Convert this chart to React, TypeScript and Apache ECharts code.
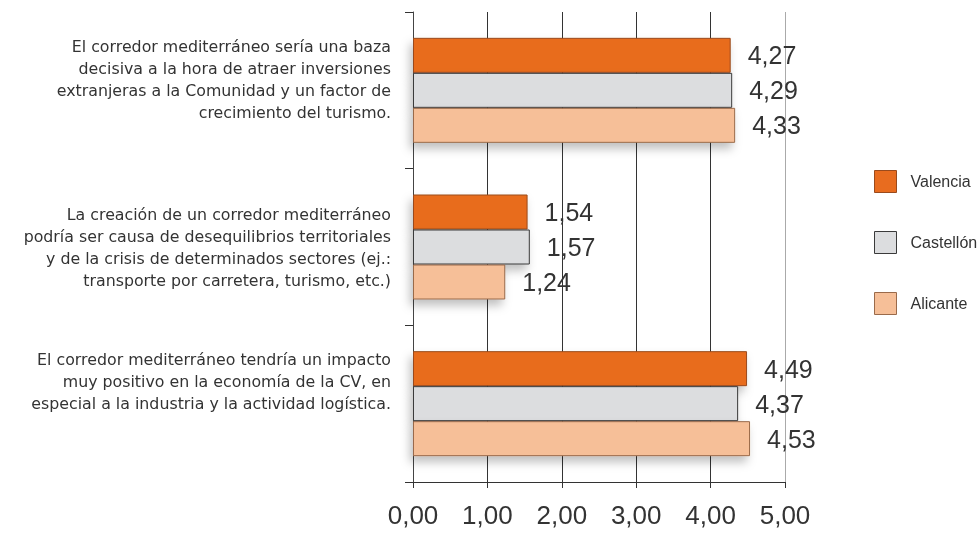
import React, { useEffect, useRef } from "react";
import * as echarts from "echarts";

const categories = [
  "El corredor mediterráneo sería una baza\ndecisiva a la hora de atraer inversiones\nextranjeras a la Comunidad y un factor de\ncrecimiento del turismo.",
  "La creación de un corredor mediterráneo\npodría ser causa de desequilibrios territoriales\ny de la crisis de determinados sectores (ej.:\ntransporte por carretera, turismo, etc.)",
  "El corredor mediterráneo tendría un impacto\nmuy positivo en la economía de la CV, en\nespecial a la industria y la actividad logística.",
];
const seriesNames = ["Valencia", "Castellón", "Alicante"];
const valencia = [4.27, 1.54, 4.49];
const castellon = [4.29, 1.57, 4.37];
const alicante = [4.33, 1.24, 4.53];
const tickLabels = ["0,00", "1,00", "2,00", "3,00", "4,00", "5,00"];

const fills = ["#E86C1F", "#DCDDDF", "#F6BF98"];
const borders = ["#9A4A1C", "#3A3A3A", "#9A6A4A"];

export default function App() {
  const ref = useRef<HTMLDivElement>(null);
  useEffect(() => {
    if (!ref.current) return;
    const chart = echarts.init(ref.current, undefined, { renderer: "svg" });
    const data = [valencia, castellon, alicante];
    const labelPad = ["\n", "", "\n\n"];
    chart.setOption({
      animation: false,
      grid: { left: 413, right: 193, top: 12, bottom: 53 },
      legend: {
        orient: "vertical",
        left: 869,
        top: 165,
        itemWidth: 22,
        itemHeight: 22,
        itemGap: 38,
        icon: "rect",
        data: seriesNames,
        itemStyle: { borderWidth: 1 },
        textStyle: {
          fontFamily: "'Liberation Sans', Arial, sans-serif",
          fontSize: 16,
          color: "#333",
          padding: [0, 0, 0, 9],
        },
      },
      xAxis: {
        type: "value",
        min: 0,
        max: 5,
        interval: 1,
        axisLine: { show: true, lineStyle: { color: "#333", width: 1 } },
        axisTick: { show: true, length: 6, lineStyle: { color: "#333" } },
        axisLabel: {
          margin: 20,
          fontSize: 26,
          color: "#333",
          fontFamily: "'Liberation Sans', Arial, sans-serif",
          formatter: (v: number) => tickLabels[Math.round(v)],
        },
        splitLine: {
          show: true,
          lineStyle: { color: ["#555", "#333", "#333", "#333", "#333", "#aaa"], width: 1 },
        },
      },
      yAxis: {
        type: "category",
        inverse: true,
        data: categories,
        axisLine: { show: true, lineStyle: { color: "#444", width: 1 } },
        axisTick: { show: true, length: 8, lineStyle: { color: "#333" } },
        axisLabel: {
          margin: 22,
          fontSize: 15.8,
          lineHeight: 22,
          color: "#333",
          align: "right",
          fontFamily: "'DejaVu Sans', sans-serif",
          formatter: (v: string) => {
            const i = categories.indexOf(v);
            return v + (labelPad[i] || "");
          },
        },
      },
      series: seriesNames.map((name, i) => ({
        name,
        type: "bar",
        data: data[i],
        barWidth: 35,
        barGap: "0%",
        itemStyle: {
          color: fills[i],
          borderColor: borders[i],
          borderWidth: 1,
          shadowBlur: 10,
          shadowColor: "rgba(0,0,0,0.25)",
          shadowOffsetX: -3,
          shadowOffsetY: 6,
        },
        label: {
          show: true,
          position: "right",
          distance: 17,
          fontSize: 25,
          color: "#333",
          fontFamily: "'Liberation Sans', Arial, sans-serif",
          formatter: (p: any) => p.value.toFixed(2).replace(".", ","),
        },
      })),
    });
    return () => chart.dispose();
  }, []);
  return (
    <div
      ref={ref}
      style={{ position: "fixed", left: 0, top: 0, width: 978, height: 535, overflow: "hidden" }}
    />
  );
}
